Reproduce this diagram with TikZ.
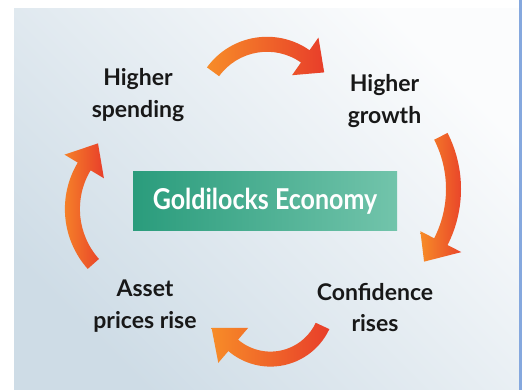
\documentclass[tikz,border=0pt]{standalone}
\usepackage{fontspec}
\setmainfont{Lato}
\usepackage{tikz}
\usepackage{xcolor}
\usepackage{graphicx}
\tikzset{>=latex}
\usetikzlibrary{calc}

\definecolor{arrorange}{RGB}{247,140,40}
\definecolor{arrred}{RGB}{232,62,42}
\definecolor{goldleft}{RGB}{42,156,124}
\definecolor{goldright}{RGB}{114,196,171}
\definecolor{bgdark}{RGB}{206,220,230}
\definecolor{bglight}{RGB}{251,252,253}
\definecolor{edgeblue}{RGB}{133,168,222}
\definecolor{labeltext}{RGB}{24,24,24}

\tikzset{
  cyclabel/.style={align=center, inner sep=0pt, text=labeltext,
    font=\fontsize{23}{31.5}\selectfont\bfseries},
  goldbox/.style={minimum width=264pt, minimum height=59pt, inner sep=0pt,
    left color=goldleft, right color=goldright, text=white,
    font=\fontsize{25}{30}\selectfont\bfseries},
  arrowfill/.style={left color=arrorange, right color=arrred}
}

% centre, radius, from, to, tip angle, tip radius
\newcommand{\cyclearrow}[6]{%
  \shade[arrowfill] ($(#1)+({#3}:{#2+7.5})$) arc[start angle=#3, end angle=#4, radius={#2+7.5}]
    -- ($(#1)+({#4}:{#2+23})$) -- ($(#1)+({#5}:{#6})$) -- ($(#1)+({#4}:{#2-23})$)
    -- ($(#1)+({#4}:{#2-7.5})$) arc[start angle=#4, end angle=#3, radius={#2-7.5}] -- cycle;}

\begin{document}
\begin{tikzpicture}[x=1pt, y=1pt]
        \useasboundingbox (0,0) rectangle (524,390);
        \fill[white] (0,0) rectangle (524,390);
        \shade[bottom color=bgdark, top color=bglight, shading angle=-45] (14,0) rectangle (519,381);
        \fill[edgeblue] (519,0) rectangle (521.5,390);

        \node[goldbox] (gold) at (265,188.5) {\scalebox{1}[1.15]{Goldilocks Economy}};
        \node[cyclabel] (spend) at (138,295) {Higher\\spending};
        \node[cyclabel] (growth) at (384.5,289) {Higher\\growth};
        \node[cyclabel] (conf) at (375,82.5) {Confidence\\rises};
        \node[cyclabel] (asset) at (145,84) {Asset\\prices rise};

        \coordinate (spendgrowth) at (267,279);
        \coordinate (growthconf) at (337.5,201);
        \coordinate (confasset) at (270.5,88.3);
        \coordinate (assetspend) at (155,181);
        \cyclearrow{spendgrowth}{66.7}{144}{55}{34}{69}
        \cyclearrow{growthconf}{116}{27}{-27}{-40}{113}
        \cyclearrow{confasset}{57.4}{-25}{-130.5}{-156}{64.5}
        \cyclearrow{assetspend}{82.6}{221.7}{149}{131}{86.9}
      \end{tikzpicture}
\end{document}
